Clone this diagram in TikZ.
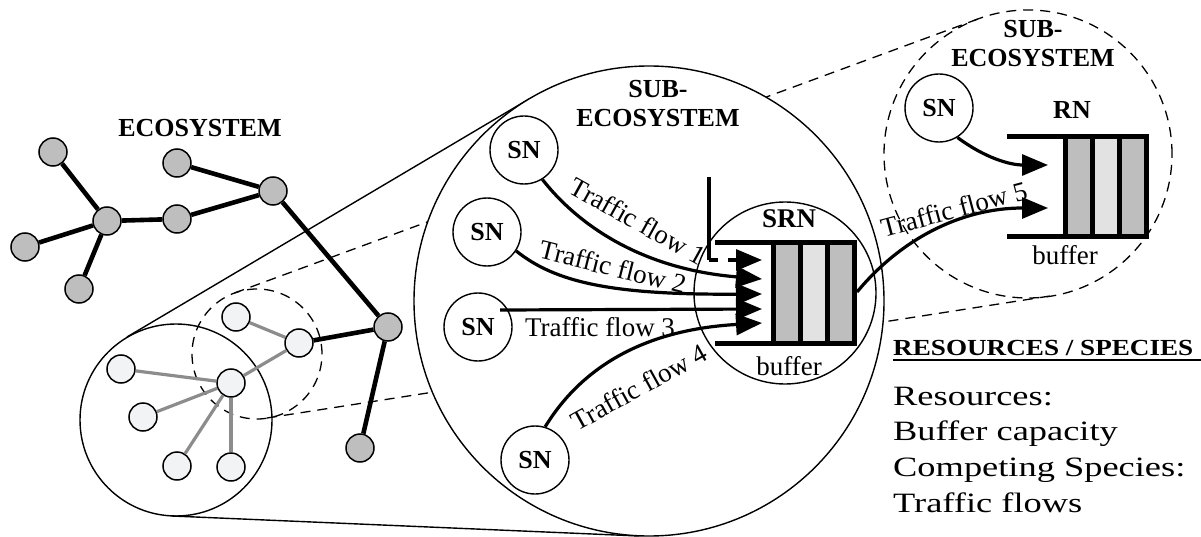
\documentclass[tikz,border=0pt]{standalone}
\usepackage{fontspec}
\setmainfont{Liberation Serif}
\newfontfamily\resfont[FakeStretch=1.3]{Liberation Serif}
\newfontfamily\headfont[FakeStretch=1.18]{Liberation Serif}
\usetikzlibrary{arrows.meta,calc}
\definecolor{ecogray}{RGB}{190,190,190}
\definecolor{ecolight}{RGB}{242,243,245}
\definecolor{edgegray}{RGB}{140,140,140}
\definecolor{celldark}{RGB}{190,190,190}
\definecolor{celllight}{RGB}{226,226,226}

\tikzset{
  sn/.style={circle, draw, line width=1.4pt, minimum size=68pt, inner sep=0pt,
             font=\fontsize{26}{26}\selectfont\bfseries},
  enode/.style={circle, draw, line width=1.5pt, fill=ecogray, minimum size=28pt, inner sep=0pt},
  lnode/.style={circle, draw, line width=1.5pt, fill=ecolight, minimum size=28pt, inner sep=0pt},
  eedge/.style={line width=4.6pt},
  ledge/.style={line width=3.2pt, draw=edgegray},
  ring/.style={circle, draw, line width=1.4pt, inner sep=0pt},
  halo/.style={dash pattern=on 10pt off 7pt, line width=1.3pt},
  flow/.style={line width=3.2pt, -{Triangle[length=26pt,width=21pt]}},
  lbl/.style={inner sep=0pt, font=\fontsize{27}{27}\selectfont},
  title/.style={inner sep=0pt, align=center, font=\fontsize{26}{29}\selectfont\bfseries},
  restext/.style={anchor=base west, inner sep=0pt, font=\resfont\fontsize{28}{28}\selectfont},
  buffer/.pic={
    \draw[line width=5pt] (0,0) -- (139,0) (0,100) -- (139,100);
    \filldraw[fill=celldark, line width=5pt] (58,0) rectangle (85,100);
    \filldraw[fill=celllight, line width=5pt] (85,0) rectangle (112,100);
    \filldraw[fill=celldark, line width=5pt] (112,0) rectangle (139,100);
  }
}

\begin{document}
\begin{tikzpicture}[x=1pt, y=-1pt]
\useasboundingbox (0,0) rectangle (1201,537);

% tangent lines of the two zoom cones
\coordinate (dA1) at (234.5,293); \coordinate (dA2) at (978,19);
\coordinate (dB1) at (267,418);   \coordinate (dB2) at (1050,296);
\draw[halo] (dA1) -- (dA2);
\draw[halo] (dB1) -- (dB2);
\coordinate (sA1) at (127,337); \coordinate (sA2) at (529,99);
\coordinate (sB1) at (172,516); \coordinate (sB2) at (639,536);
\draw[line width=1.4pt] (sA1) -- (sA2);
\draw[line width=1.4pt] (sB1) -- (sB2);

% sub-ecosystem disc
\node[ring, fill=white, minimum size=470pt] (sub) at (649,301) {};

% ecosystem graph
\node[title] at (200,128) {ECOSYSTEM};
\node[ring, minimum size=192pt] (lens) at (176,420) {};
\node[circle, draw, halo, minimum size=130pt, inner sep=0pt] (focus) at (257,354) {};

\node[enode] (e1) at (53,152) {};
\node[enode] (e2) at (107,221) {};
\node[enode] (e3) at (25,247) {};
\node[enode] (e4) at (79,289) {};
\node[enode] (e5) at (177,163) {};
\node[enode] (e6) at (177,219) {};
\node[enode] (e7) at (273,191) {};
\node[enode] (e8) at (388,327) {};
\node[enode] (e9) at (360,448) {};

\node[lnode] (l1) at (299,343) {};
\node[lnode] (l2) at (236,317) {};
\node[lnode] (l3) at (231,383) {};
\node[lnode] (l4) at (121,369) {};
\node[lnode] (l5) at (143,417) {};
\node[lnode] (l6) at (177,466) {};
\node[lnode] (l7) at (231,467) {};

\draw[eedge] (e1) -- (e2);
\draw[eedge] (e3) -- (e2);
\draw[eedge] (e4) -- (e2);
\draw[eedge] (e2) -- (e6);
\draw[eedge] (e6) -- (e7);
\draw[eedge] (e5) -- (e7);
\draw[eedge] (e7) -- (e8);
\draw[eedge] (e8) -- (e9);
\draw[eedge] (e8) -- (l1);

\draw[ledge] (l2) -- (l1);
\draw[ledge] (l1) -- (l3);
\draw[ledge] (l4) -- (l3);
\draw[ledge] (l5) -- (l3);
\draw[ledge] (l6) -- (l3);
\draw[ledge] (l7) -- (l3);

% sub-ecosystem contents
\node[title] at (658,104) {SUB-\\ECOSYSTEM};
\node[ring, minimum size=182pt] (srn) at (785,293) {};
\node[inner sep=0pt, font=\fontsize{27}{27}\selectfont\bfseries] at (789,219) {SRN};
\pic at (715,243) {buffer};
\node[lbl, anchor=base] at (789,375) {buffer};

\node[sn] (sn1) at (524,150) {SN};
\node[sn] (sn2) at (487,232) {SN};
\node[sn] (sn3) at (478,327) {SN};
\node[sn] (sn4) at (535,460) {SN};

\coordinate (t0) at (762,260);
\coordinate (t1) at (762,279);
\coordinate (t2) at (762,294);
\coordinate (t3) at (762,309);
\coordinate (t4) at (762,323);
\coordinate (drop) at (709,177);
\coordinate (dropfoot) at (709,260);

\draw[line width=3.2pt] (drop) -- (dropfoot);
\draw[line width=3.2pt, dash pattern=on 9pt off 10pt, -{Triangle[length=26pt,width=21pt]}] (dropfoot) -- (t0);
\draw[flow] (sn1.-58) .. controls (570,215) and (630,268) .. (t1);
\draw[flow] (sn2.-33) .. controls (555,282) and (610,295) .. (t2);
\draw[flow] ([shift={(22,-17)}]sn3.center) -- (t3);
\draw[flow] (sn4.73) .. controls (580,370) and (640,330) .. (t4);

\node[lbl, rotate=-29] at (638,221) {Traffic flow 1};
\node[lbl, rotate=-14] at (613,267) {Traffic flow 2};
\node[lbl] at (600,327) {Traffic flow 3};
\node[lbl, rotate=29] at (639,387) {Traffic flow 4};

% far sub-ecosystem
\node[circle, draw, halo, minimum size=288pt, inner sep=0pt] (far) at (1028,154) {};
\node[title] at (1033,44) {SUB-\\ECOSYSTEM};
\node[sn] (sn5) at (939,108) {SN};
\node[inner sep=0pt, font=\fontsize{26}{26}\selectfont\bfseries] at (1072,110) {RN};
\pic at (1007,137) {buffer};
\node[lbl, anchor=base] at (1065,265) {buffer};

\coordinate (out) at (857,292);
\coordinate (t5) at (1048,208);
\coordinate (t6) at (1048,165);
\draw[flow] (out) .. controls (900,240) and (960,208) .. (t5);
\draw[flow] (sn5.-58) .. controls (985,158) and (1010,165) .. (t6);
\node[lbl, rotate=15] at (954,209) {Traffic flow 5};

% resources / species legend
\node[anchor=base west, inner sep=0pt, font=\headfont\bfseries\fontsize{23}{23}\selectfont] (head) at (893,355) {RESOURCES / SPECIES};
\draw[line width=1.6pt] ([yshift=-5pt]head.base west) -- ++(308,0);
\node[restext] at (893,405) {Resources:};
\node[restext] at (893,440) {Buffer capacity};
\node[restext] at (893,476) {Competing Species:};
\node[restext] at (893,512) {Traffic flows};
\end{tikzpicture}
\end{document}
